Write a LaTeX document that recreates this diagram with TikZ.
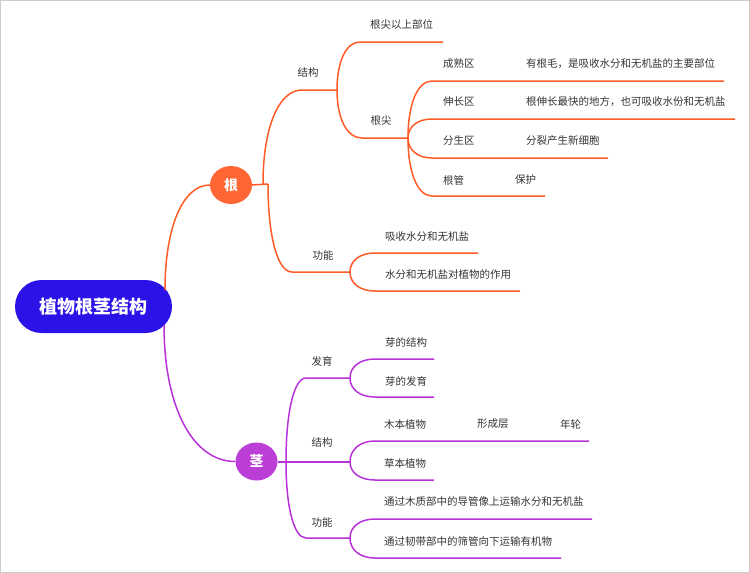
\documentclass[tikz,border=0pt]{standalone}
\usepackage{fontspec}
\setmainfont{Noto Sans CJK SC}
\usetikzlibrary{calc,shapes.geometric}
\definecolor{rootblue}{HTML}{2B12E6}
\definecolor{orn}{HTML}{FF5B26}
\definecolor{ornfill}{HTML}{FF6633}
\definecolor{pur}{HTML}{B832D8}
\definecolor{purfill}{HTML}{BB3FD6}
\definecolor{txt}{HTML}{333333}
\begin{document}
\begin{tikzpicture}[x=1pt,y=-1pt,
  bcurve/.style={to path={.. controls ($(\tikztostart)!0.6!(\tikztostart|-\tikztotarget)$) and ($(\tikztotarget)!0.6!(\tikztostart|-\tikztotarget)$) .. (\tikztotarget)}},
  leaf/.style={anchor=west, inner sep=0pt, font=\fontsize{10.5}{12}\selectfont, text=txt},
  lbl/.style={inner sep=0pt, font=\fontsize{10.5}{12}\selectfont, text=txt},
  olink/.style={draw=orn, line width=1.5pt},
  plink/.style={draw=pur, line width=1.5pt},
  topic/.style={ellipse, inner sep=0pt, minimum width=42pt, minimum height=38pt, text=white, font=\bfseries\fontsize{14}{16}\selectfont}
]
\useasboundingbox (0,0) rectangle (750,573);
\draw[black!20, line width=1pt] (0.5,0.5) rectangle (749.5,572.5);

% main nodes
\node[fill=rootblue, rounded corners=26.5pt, minimum width=157pt, minimum height=53pt, inner sep=0pt,
      text=white, font=\bfseries\fontsize{18}{20}\selectfont] (root) at (93.5,306.5) {植物根茎结构};
\node[topic, fill=ornfill] (gen) at (231,185) {根};
\node[topic, fill=purfill] (jing) at (256.5,461.5) {茎};

\coordinate (rO) at (165,290);
\coordinate (rP) at (164,325);
\draw[olink] (rO) to[bcurve] (gen.west);
\draw[plink] (rP) to[bcurve] (jing.west);

% ---------- root branch ----------
\coordinate (gA) at (263,184);
\coordinate (gB) at (268,184);
\draw[olink] (gen.east) -- (gB);
\coordinate (jg1s) at (302,90); \coordinate (jg1) at (337,90);
\draw[olink] (gA) to[bcurve] (jg1s) -- (jg1);
\coordinate (jg2s) at (292,272); \coordinate (jg2) at (350,272);
\draw[olink] (gB) to[bcurve] (jg2s) -- (jg2);
\node[lbl] (l1) at (308,73) {结构};
\node[lbl] (l2) at (323,256) {功能};

\coordinate (a1s) at (360,42); \coordinate (a1e) at (443,42);
\draw[olink] (jg1) to[bcurve] (a1s) -- (a1e);
\coordinate (a2s) at (362,138); \coordinate (gj) at (408,138);
\draw[olink] (jg1) to[bcurve] (a2s) -- (gj);
\node[leaf] (t1) at (370,25) {根尖以上部位};
\node[lbl] (l3) at (381,121) {根尖};

\coordinate (b1s) at (432,81);  \coordinate (b1e) at (724,81);
\coordinate (b2s) at (432,119); \coordinate (b2e) at (735,119);
\coordinate (b3s) at (432,158); \coordinate (b3e) at (608,158);
\coordinate (b4s) at (432,196); \coordinate (b4e) at (545,196);
\draw[olink] (gj) to[bcurve] (b1s) -- (b1e);
\draw[olink] (gj) to[bcurve] (b2s) -- (b2e);
\draw[olink] (gj) to[bcurve] (b3s) -- (b3e);
\draw[olink] (gj) to[bcurve] (b4s) -- (b4e);
\node[leaf] (t2) at (443,64) {成熟区};
\node[leaf] (t2b) at (526,64) {有根毛，是吸收水分和无机盐的主要部位};
\node[leaf] (t3) at (443,102) {伸长区};
\node[leaf] (t3b) at (526,102) {根伸长最快的地方，也可吸收水份和无机盐};
\node[leaf] (t4) at (443,141) {分生区};
\node[leaf] (t4b) at (526,141) {分裂产生新细胞};
\node[leaf] (t5) at (443,180) {根管};
\node[leaf] (t5b) at (515,180) {保护};

\coordinate (c1s) at (375,253); \coordinate (c1e) at (478,253);
\coordinate (c2s) at (375,291); \coordinate (c2e) at (520,291);
\draw[olink] (jg2) to[bcurve] (c1s) -- (c1e);
\draw[olink] (jg2) to[bcurve] (c2s) -- (c2e);
\node[leaf] (t6) at (385,237) {吸收水分和无机盐};
\node[leaf] (t7) at (385,275) {水分和无机盐对植物的作用};

% ---------- stem branch ----------
\coordinate (sA) at (286,462);
\draw[plink] (jing.east|-sA) -- (sA);
\coordinate (d1s) at (306,378); \coordinate (d1) at (350,378);
\coordinate (d2) at (350,462);
\coordinate (d3s) at (306,538); \coordinate (d3) at (350,538);
\draw[plink] (sA) to[bcurve] (d1s) -- (d1);
\draw[plink] (sA) -- (d2);
\draw[plink] (sA) to[bcurve] (d3s) -- (d3);
\node[lbl] (m1) at (322,361) {发育};
\node[lbl] (m2) at (322,443) {结构};
\node[lbl] (m3) at (322,522) {功能};

\coordinate (e1s) at (375,359); \coordinate (e1e) at (434,359);
\coordinate (e2s) at (375,397); \coordinate (e2e) at (434,397);
\draw[plink] (d1) to[bcurve] (e1s) -- (e1e);
\draw[plink] (d1) to[bcurve] (e2s) -- (e2e);
\node[leaf] (u1) at (385,342) {芽的结构};
\node[leaf] (u2) at (385,381) {芽的发育};

\coordinate (f1s) at (375,441); \coordinate (f1e) at (589,441);
\coordinate (f2s) at (375,480); \coordinate (f2e) at (434,480);
\draw[plink] (d2) to[bcurve] (f1s) -- (f1e);
\draw[plink] (d2) to[bcurve] (f2s) -- (f2e);
\node[leaf] (u3) at (384,424) {木本植物};
\node[leaf] (u3b) at (477,424) {形成层};
\node[leaf] (u3c) at (560,424) {年轮};
\node[leaf] (u4) at (384,463) {草本植物};

\coordinate (g1s) at (375,519); \coordinate (g1e) at (592,519);
\coordinate (g2s) at (375,558); \coordinate (g2e) at (561,558);
\draw[plink] (d3) to[bcurve] (g1s) -- (g1e);
\draw[plink] (d3) to[bcurve] (g2s) -- (g2e);
\node[leaf] (u5) at (384,502) {通过木质部中的导管像上运输水分和无机盐};
\node[leaf] (u6) at (384,541) {通过韧带部中的筛管向下运输有机物};
\end{tikzpicture}
\end{document}
